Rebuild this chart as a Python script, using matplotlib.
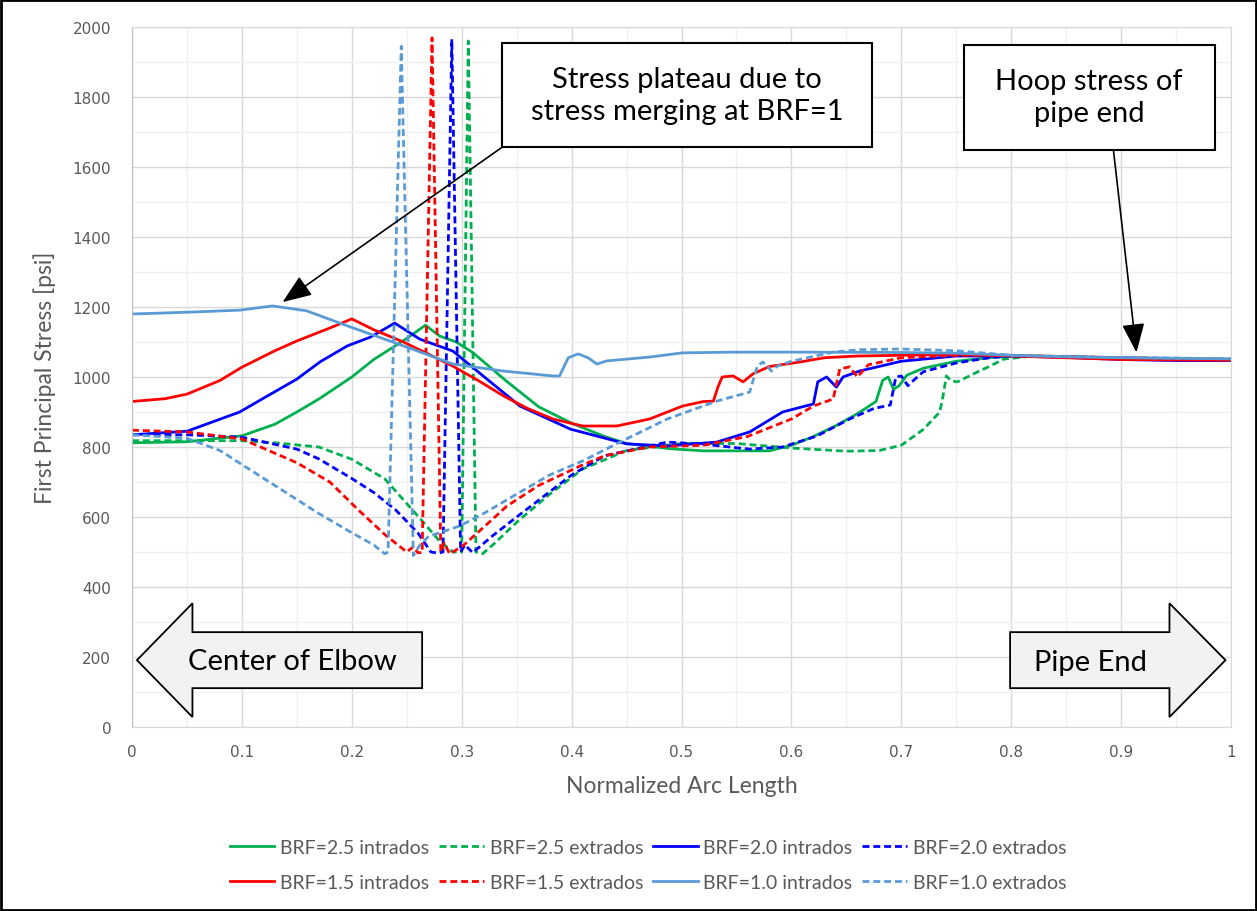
import numpy as np
import matplotlib
matplotlib.use('Agg')
import matplotlib.pyplot as plt
from matplotlib.patches import Rectangle, FancyArrow
from matplotlib.ticker import MultipleLocator

# BRF=2.5
g_int_x = [0, 0.05, 0.1, 0.13, 0.15, 0.17, 0.2, 0.22, 0.25, 0.267, 0.28, 0.295, 0.31, 0.325, 0.34, 0.37, 0.4,
           0.43, 0.45, 0.49, 0.52, 0.58, 0.6, 0.62, 0.64, 0.66, 0.677, 0.683, 0.688, 0.693, 0.698, 0.705, 0.72,
           0.75, 0.78, 0.8, 0.85, 0.9, 1.0]
g_int_y = [812, 815, 832, 865, 900, 937, 1000, 1050, 1110, 1148, 1117, 1100, 1070, 1030, 990, 915, 868,
           830, 810, 795, 789, 789, 805, 830, 860, 895, 930, 990, 1000, 965, 975, 1005, 1025,
           1045, 1055, 1060, 1058, 1053, 1050]
g_ext_x = [0, 0.05, 0.1, 0.13, 0.17, 0.2, 0.23, 0.26, 0.28, 0.292, 0.3, 0.306, 0.313, 0.319, 0.33, 0.35, 0.38,
           0.41, 0.45, 0.5, 0.55, 0.6, 0.65, 0.68, 0.7, 0.72, 0.735, 0.738, 0.741, 0.745, 0.751, 0.76, 0.769,
           0.78, 0.793, 0.82, 0.9, 1.0]
g_ext_y = [818, 818, 818, 812, 800, 765, 709, 603, 531, 500, 500, 1960, 500, 495, 525, 585, 665,
           737, 790, 810, 810, 797, 788, 790, 805, 850, 900, 946, 1003, 990, 986, 1000, 1014,
           1030, 1051, 1060, 1055, 1050]

# BRF=2.0
b_int_x = [0, 0.05, 0.098, 0.12, 0.15, 0.171, 0.196, 0.217, 0.239, 0.262, 0.292, 0.323, 0.353, 0.399, 0.45,
           0.487, 0.532, 0.562, 0.592, 0.62, 0.624, 0.632, 0.641, 0.647, 0.662, 0.7, 0.75, 0.8, 0.85, 0.9,
           0.95, 1.0]
b_int_y = [835, 845, 900, 940, 994, 1043, 1089, 1114, 1154, 1108, 1074, 994, 917, 851, 809,
           803, 814, 843, 900, 923, 986, 1000, 971, 1000, 1017, 1045, 1060, 1060, 1056, 1050,
           1047, 1047]
b_ext_x = [0, 0.05, 0.1, 0.15, 0.17, 0.2, 0.22, 0.24, 0.26, 0.272, 0.278, 0.283, 0.291, 0.299, 0.303, 0.31,
           0.328, 0.35, 0.368, 0.4, 0.43, 0.487, 0.52, 0.562, 0.592, 0.623, 0.653, 0.675, 0.69, 0.695, 0.7,
           0.706, 0.711, 0.72, 0.75, 0.78, 0.8, 0.9, 0.95, 1.0]
b_ext_y = [835, 835, 828, 794, 766, 710, 670, 620, 555, 500, 497, 500, 1965, 500, 520, 498,
           546, 600, 643, 720, 775, 814, 808, 794, 800, 831, 880, 910, 920, 1000, 1003,
           975, 990, 1015, 1040, 1055, 1060, 1055, 1050, 1050]

# BRF=1.5
r_int_x = [0, 0.03, 0.05, 0.08, 0.1, 0.13, 0.15, 0.18, 0.2, 0.22, 0.247, 0.27, 0.292, 0.315, 0.338, 0.36,
           0.383, 0.41, 0.441, 0.471, 0.501, 0.52, 0.529, 0.533, 0.537, 0.547, 0.556, 0.565, 0.58, 0.608,
           0.63, 0.66, 0.7, 0.75, 0.8, 0.85, 0.9, 1.0]
r_int_y = [930, 938, 951, 990, 1028, 1075, 1103, 1140, 1166, 1135, 1100, 1065, 1031, 990, 946, 910,
           880, 860, 860, 880, 917, 930, 931, 970, 1000, 1003, 986, 1009, 1030, 1043,
           1055, 1060, 1062, 1065, 1060, 1055, 1050, 1048]
r_ext_x = [0, 0.05, 0.1, 0.15, 0.18, 0.205, 0.23, 0.25, 0.256, 0.26, 0.264, 0.273, 0.281, 0.284, 0.289, 0.3,
           0.308, 0.325, 0.341, 0.37, 0.408, 0.43, 0.47, 0.52, 0.56, 0.6, 0.62, 0.638, 0.644, 0.653, 0.66,
           0.67, 0.7, 0.75, 0.8, 0.9, 1.0]
r_ext_y = [848, 843, 823, 755, 700, 623, 550, 500, 515, 498, 498, 1969, 500, 526, 495, 515,
           537, 585, 631, 690, 746, 775, 800, 805, 830, 880, 917, 937, 1023, 1029, 1000,
           1035, 1055, 1062, 1062, 1055, 1050]

# BRF=1.0
lb_int_x = [0, 0.05, 0.098, 0.128, 0.159, 0.196, 0.247, 0.292, 0.338, 0.383, 0.389, 0.397, 0.406, 0.415,
            0.423, 0.432, 0.471, 0.501, 0.547, 0.608, 0.7, 0.75, 0.8, 0.85, 0.9, 1.0]
lb_int_y = [1180, 1185, 1191, 1203, 1189, 1146, 1089, 1037, 1017, 1003, 1003, 1055, 1066, 1055,
            1037, 1046, 1057, 1069, 1071, 1071, 1070, 1068, 1062, 1058, 1055, 1052]
lb_ext_x = [0, 0.05, 0.08, 0.1, 0.12, 0.15, 0.17, 0.2, 0.22, 0.23, 0.233, 0.245, 0.256, 0.262, 0.27, 0.298,
            0.32, 0.353, 0.38, 0.41, 0.444, 0.487, 0.532, 0.562, 0.569, 0.574, 0.582, 0.587, 0.6, 0.638,
            0.662, 0.7, 0.75, 0.8, 0.85, 0.9, 1.0]
lb_ext_y = [835, 825, 790, 750, 710, 650, 610, 555, 520, 495, 500, 1945, 490, 520, 545, 574,
            610, 671, 720, 760, 814, 880, 931, 957, 1031, 1043, 1017, 1031, 1045, 1071,
            1078, 1080, 1075, 1062, 1058, 1056, 1052]

GREEN = '#00B050'
BLUE = '#0000FF'
RED = '#FF0000'
LBLUE = '#5B9BD5'
GRAY = '#595959'
LBL_FONT = ['Lato', 'DejaVu Sans']

fig = plt.figure(figsize=(12.57, 9.12), dpi=100)
ax = fig.add_axes([132 / 1257, 1 - 728 / 912, (1231 - 132) / 1257, 700 / 912])

lw = 2.0
dash = (2.5, 1.4)
h_g_i, = ax.plot(g_int_x, g_int_y, color=GREEN, lw=lw, label='BRF=2.5 intrados')
h_g_e, = ax.plot(g_ext_x, g_ext_y, color=GREEN, lw=lw, ls=(0, dash), label='BRF=2.5 extrados')
h_b_i, = ax.plot(b_int_x, b_int_y, color=BLUE, lw=lw, label='BRF=2.0 intrados')
h_b_e, = ax.plot(b_ext_x, b_ext_y, color=BLUE, lw=lw, ls=(0, dash), label='BRF=2.0 extrados')
h_r_i, = ax.plot(r_int_x, r_int_y, color=RED, lw=lw, label='BRF=1.5 intrados')
h_r_e, = ax.plot(r_ext_x, r_ext_y, color=RED, lw=lw, ls=(0, dash), label='BRF=1.5 extrados')
h_l_i, = ax.plot(lb_int_x, lb_int_y, color=LBLUE, lw=lw, label='BRF=1.0 intrados')
h_l_e, = ax.plot(lb_ext_x, lb_ext_y, color=LBLUE, lw=lw, ls=(0, dash), label='BRF=1.0 extrados')

ax.set_xlim(0, 1)
ax.set_ylim(0, 2000)
ax.xaxis.set_major_locator(MultipleLocator(0.1))
ax.xaxis.set_minor_locator(MultipleLocator(0.05))
ax.yaxis.set_major_locator(MultipleLocator(200))
ax.yaxis.set_minor_locator(MultipleLocator(100))
ax.set_xticks(np.arange(0, 1.01, 0.1))
ax.set_xticklabels(['0', '0.1', '0.2', '0.3', '0.4', '0.5', '0.6', '0.7', '0.8', '0.9', '1'])
ax.grid(which='major', color='#d9d9d9', lw=1.0)
ax.grid(which='minor', color='#f0f0f0', lw=1.0)
ax.set_axisbelow(True)
ax.tick_params(which='both', length=0, labelsize=11, labelcolor=GRAY)
ax.tick_params(axis='x', pad=12)
ax.tick_params(axis='y', pad=15)
for s in ax.spines.values():
    s.set_color('#d9d9d9')
ax.spines['left'].set_color('#bfbfbf')

ax.set_xlabel('Normalized Arc Length', fontsize=16.5, color=GRAY, family=LBL_FONT, labelpad=12)
ax.set_ylabel('First Principal Stress [psi]', fontsize=16.5, color=GRAY, family=LBL_FONT, labelpad=12)

# callout boxes
ax.add_patch(Rectangle((0.337, 1657), 0.336, 297, fc='white', ec='black', lw=1.5, zorder=5))
ax.text(0.505, 1806, 'Stress plateau due to\nstress merging at BRF=1', ha='center', va='center',
        fontsize=21, family=LBL_FONT, linespacing=1.25, zorder=6)
ax.annotate('', xy=(0.137, 1214), xytext=(0.337, 1657),
            arrowprops=dict(arrowstyle='-|>,head_length=0.9,head_width=0.35', color='black', lw=1.2,
                            mutation_scale=20, shrinkA=0, shrinkB=0), zorder=6)

ax.add_patch(Rectangle((0.757, 1649), 0.228, 300, fc='white', ec='black', lw=1.5, zorder=5))
ax.text(0.871, 1800, 'Hoop stress of\npipe end', ha='center', va='center',
        fontsize=21, family=LBL_FONT, linespacing=1.25, zorder=6)
ax.annotate('', xy=(0.914, 1070), xytext=(0.893, 1649),
            arrowprops=dict(arrowstyle='-|>,head_length=0.9,head_width=0.35', color='black', lw=1.2,
                            mutation_scale=20, shrinkA=0, shrinkB=0), zorder=6)

# block arrows
ax.add_patch(FancyArrow(0.264, 191, -0.2595, 0, width=160, head_width=325, head_length=0.0505,
                        length_includes_head=True, fc='#f2f2f2', ec='black', lw=1.3, zorder=5))
ax.text(0.146, 189, 'Center of Elbow', ha='center', va='center', fontsize=21, family=LBL_FONT, zorder=6)
ax.add_patch(FancyArrow(0.799, 191, 0.196, 0, width=160, head_width=325, head_length=0.051,
                        length_includes_head=True, fc='#f2f2f2', ec='black', lw=1.3, zorder=5))
ax.text(0.872, 187, 'Pipe End', ha='center', va='center', fontsize=21, family=LBL_FONT, zorder=6)

handles = [h_g_i, h_r_i, h_g_e, h_r_e, h_b_i, h_l_i, h_b_e, h_l_e]
leg = fig.legend(handles=handles, labels=[h.get_label() for h in handles], ncol=4, loc='center',
                 bbox_to_anchor=(648 / 1257, 1 - 866 / 912), frameon=False,
                 prop={'family': LBL_FONT, 'size': 14}, handlelength=2.3, columnspacing=0.5,
                 handletextpad=0.3, labelspacing=0.9)
for t in leg.get_texts():
    t.set_color(GRAY)

fig.add_artist(Rectangle((0.001, 0.001), 0.998, 0.998, transform=fig.transFigure, fill=False,
                         ec='black', lw=2))

fig.savefig('out.png', dpi=100)
